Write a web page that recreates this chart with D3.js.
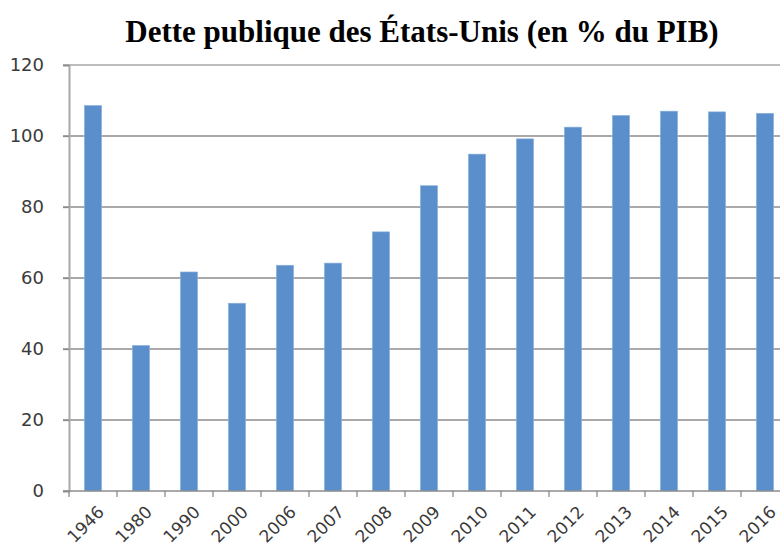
<!DOCTYPE html>
<html>
<head>
<meta charset="utf-8">
<script src="https://cdn.jsdelivr.net/npm/d3@7"></script>
<style>
  body { margin: 0; background: #fff; }
  svg { display: block; }
</style>
</head>
<body>
<div id="chart"></div>
<script>
const width = 780;
const height = 554;

const years = ["1946", "1980", "1990", "2000", "2006", "2007", "2008", "2009",
               "2010", "2011", "2012", "2013", "2014", "2015", "2016"];
const debt = [108.6, 41.0, 61.7, 52.9, 63.6, 64.2, 73.0, 86.0,
              94.9, 99.2, 102.5, 105.8, 107.0, 106.8, 106.4];
const yTicks = [0, 20, 40, 60, 80, 100, 120];

const margin = {top: 65, left: 69, bottom: 63};
const plotRight = 789;

const svg = d3.select("#chart")
    .append("svg")
    .attr("width", width)
    .attr("height", height);

const x = d3.scaleBand()
    .domain(years)
    .range([margin.left, plotRight])
    .paddingInner(0.64)
    .paddingOuter(0.32);

const y = d3.scaleLinear()
    .domain([0, 120])
    .range([height - margin.bottom, margin.top]);

// gridlines
svg.append("g")
    .selectAll("line")
    .data(yTicks.filter(d => d > 0))
    .enter()
    .append("line")
    .attr("x1", margin.left - 6)
    .attr("x2", plotRight)
    .attr("y1", d => y(d))
    .attr("y2", d => y(d))
    .attr("stroke", d => d === 120 ? "#bdbdbd" : "#8c8c8c")
    .attr("stroke-width", d => d === 120 ? 2 : 1.3);

// bars
svg.append("g")
    .selectAll("rect")
    .data(years)
    .enter()
    .append("rect")
    .attr("x", d => x(d))
    .attr("y", (d, i) => y(debt[i]))
    .attr("width", x.bandwidth())
    .attr("height", (d, i) => y(0) - y(debt[i]))
    .attr("fill", "#5b8fcc")
    .attr("stroke", "#8fb4e0")
    .attr("stroke-width", 0.6);

// y axis
const yAxis = svg.append("g")
    .attr("transform", `translate(${margin.left},0)`)
    .call(d3.axisLeft(y).tickValues(yTicks).tickSize(6).tickPadding(19));
yAxis.select(".domain").attr("stroke", "#a8a8a8").attr("stroke-width", 2);
yAxis.selectAll(".tick line").attr("stroke", "#8c8c8c").attr("stroke-width", 1.3);
yAxis.selectAll("text")
    .attr("font-family", "DejaVu Sans, Verdana, sans-serif")
    .attr("font-size", 18)
    .attr("fill", "#3a3a3a");

// x axis baseline and ticks at band boundaries
const step = x.step();
const boundaries = years.map((d, i) => margin.left + i * step).concat([plotRight]);
svg.append("line")
    .attr("x1", margin.left - 6)
    .attr("x2", plotRight)
    .attr("y1", y(0))
    .attr("y2", y(0))
    .attr("stroke", "#8c8c8c")
    .attr("stroke-width", 1.6);
svg.append("g")
    .selectAll("line")
    .data(boundaries)
    .enter()
    .append("line")
    .attr("x1", d => d)
    .attr("x2", d => d)
    .attr("y1", y(0))
    .attr("y2", y(0) + 6)
    .attr("stroke", "#8c8c8c")
    .attr("stroke-width", 1.3);

// x labels
svg.append("g")
    .selectAll("text")
    .data(years)
    .enter()
    .append("text")
    .attr("transform", d => `translate(${x(d) + x.bandwidth() / 2 + 8},${y(0) + 18}) rotate(-45)`)
    .attr("text-anchor", "end")
    .attr("dy", "0.35em")
    .attr("font-family", "DejaVu Sans, Verdana, sans-serif")
    .attr("font-size", 17)
    .attr("fill", "#3a3a3a")
    .text(d => d);

// title
svg.append("text")
    .attr("x", 422)
    .attr("y", 42)
    .attr("text-anchor", "middle")
    .attr("font-family", "Liberation Serif, Times New Roman, serif")
    .attr("font-weight", "bold")
    .attr("font-size", 31)
    .attr("fill", "#000")
    .text("Dette publique des États-Unis (en % du PIB)");
</script>
</body>
</html>
